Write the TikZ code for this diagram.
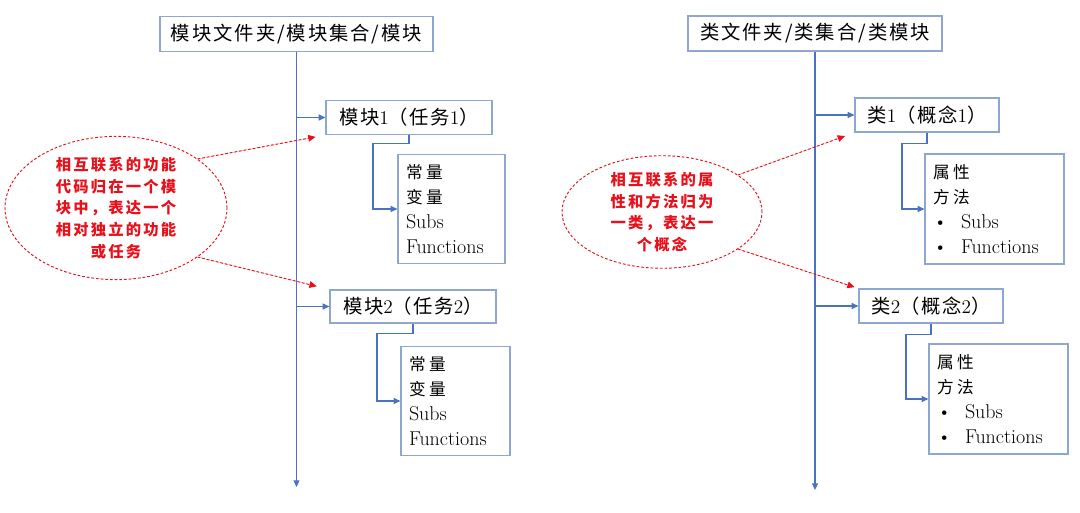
\documentclass[tikz,border=0pt]{standalone}
\usepackage{fontspec}
\usetikzlibrary{shapes.geometric,arrows.meta}
\newfontfamily\cjktitle[LetterSpace=10]{Noto Sans CJK SC}
\newfontfamily\cjkhead[LetterSpace=8]{Noto Sans CJK SC}
\newfontfamily\cjkbody[LetterSpace=20]{Noto Sans CJK SC}
\newfontfamily\cjknote[LetterSpace=14]{Noto Sans CJK SC}
\definecolor{boxblue}{HTML}{8EA6D2}
\definecolor{lineblue}{HTML}{4A72C0}
\definecolor{notered}{HTML}{E8101A}
\def\pxu{0.75pt}
\begin{document}
\begin{tikzpicture}[x=0.75pt,y=-0.75pt]
% Styles
\tikzset{box/.style={draw=boxblue,line width=0.9pt,fill=white,inner sep=0pt}}
\tikzset{titlebox/.style={box,minimum height=35*\pxu,font=\fontsize{14.5}{16}\selectfont\cjktitle}}
\tikzset{headbox/.style={box,minimum width=166*\pxu,minimum height=34*\pxu,font=\fontsize{14.5}{16}\selectfont}}
\tikzset{listbox/.style={box,minimum height=109*\pxu,inner xsep=8*\pxu,align=left,font=\fontsize{15}{18.75}\selectfont}}
\tikzset{noteoval/.style={ellipse,draw=notered,line width=0.7pt,dash pattern=on 2pt off 1.5pt,inner sep=0pt,align=center,text=notered,font=\fontsize{11.5}{16.2}\selectfont\cjknote\bfseries}}
\tikzset{flow/.style={draw=lineblue,line width=0.8pt,-{Triangle[length=5pt,width=4.5pt]}}}
\tikzset{notearrow/.style={draw=notered,line width=0.7pt,dash pattern=on 2pt off 1.5pt,-{Triangle[length=5.5pt,width=5pt]},fill=notered}}
\newcommand\cn[1]{{\cjkbody\fontsize{12.5}{18.75}\selectfont #1}}
\newcommand\bul[1]{\makebox[21pt][l]{\textbullet}#1}

% Background and bounding box
\path[use as bounding box,fill=white] (0,0) rectangle (1080,513);

% Left: modules
\node[titlebox,minimum width=273*\pxu] (lt) at (296.5,34) {模块文件夹/模块集合/模块};
\coordinate (lend) at (296.5,487);
\node[headbox] (m1) at (409,117.5) {{\cjkhead 模块}1{\cjkhead （任务}1{\cjkhead ）}};
\node[headbox,minimum height=33*\pxu] (m2) at (413,306.5) {{\cjkhead 模块}2{\cjkhead （任务}2{\cjkhead ）}};
\node[listbox,text width=91*\pxu] (c1) at (451.5,209) {\cn{常量}\\\cn{变量}\\Subs\\Functions};
\node[listbox,text width=93*\pxu] (c2) at (455.5,401) {\cn{常量}\\\cn{变量}\\Subs\\Functions};

% Right: classes
\node[titlebox,minimum width=254*\pxu] (rt) at (815,33.5) {类文件夹/类集合/类模块};
\coordinate (rend) at (815,490);
\node[headbox,minimum width=144*\pxu] (r1) at (927,115) {{\cjkhead 类}1{\cjkhead （概念}1{\cjkhead ）}};
\node[headbox,minimum width=144*\pxu] (r2) at (931,306) {{\cjkhead 类}2{\cjkhead （概念}2{\cjkhead ）}};
\node[listbox,text width=123*\pxu,minimum height=110*\pxu] (c3) at (994.5,209) {\cn{属性}\\\cn{方法}\\\bul{Subs}\\\bul{Functions}};
\node[listbox,text width=123*\pxu,minimum height=110*\pxu] (c4) at (998.5,399) {\cn{属性}\\\cn{方法}\\\bul{Subs}\\\bul{Functions}};

% Notes
\node[noteoval,minimum width=222*\pxu,minimum height=133*\pxu] (lnote) at (116,208)
  {相互联系的功能\\代码归在一个模\\块中，表达一个\\相对独立的功能\\或任务};
\node[noteoval,minimum width=200*\pxu,minimum height=96*\pxu] (rnote) at (662,212)
  {相互联系的属\\性和方法归为\\一类，表达一\\个概念};

% Trunk lines and branches
\draw[flow] (lt.south) -- (lend);
\draw[flow] (lt.south |- m1.west) -- (m1.west);
\draw[flow] (lt.south |- m2.west) -- (m2.west);
\draw[flow] (rt.south) -- (rend);
\draw[flow] (rt.south |- r1.west) -- (r1.west);
\draw[flow] (rt.south |- r2.west) -- (r2.west);

% Members
\draw[flow] (m1.south) |- ++(-36,8) |- (c1.west);
\draw[flow] (m2.south) |- ++(-36,10) |- (c2.west);
\draw[flow] (r1.south) |- ++(-25,11) |- (c3.west);
\draw[flow] (r2.south) |- ++(-25,11) |- (c4.west);

% Note arrows
\draw[notearrow,shorten >=7.5pt] (lnote.31) -- (m1.south west);
\draw[notearrow,shorten >=9.75pt] (lnote.-31) -- (m2.north west);
\draw[notearrow,shorten >=7.5pt] (rnote.26) -- (r1.south west);
\draw[notearrow,shorten >=3pt] (rnote.-26) -- (r2.north west);
\end{tikzpicture}
\end{document}
